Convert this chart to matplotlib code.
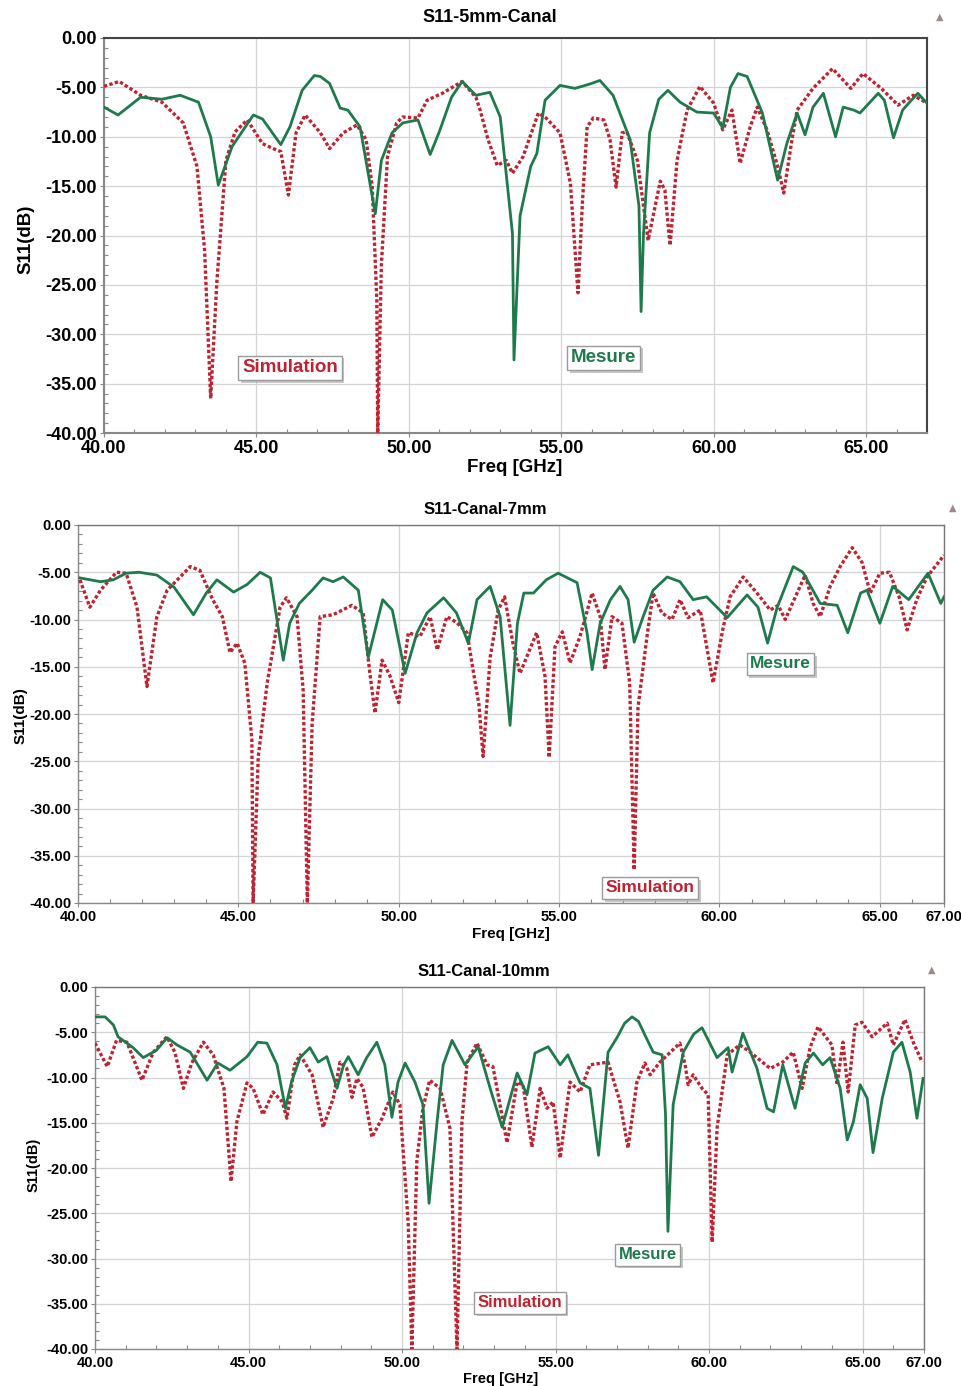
import matplotlib
matplotlib.use("Agg")
import matplotlib.pyplot as plt
from matplotlib import patheffects
from matplotlib.ticker import MultipleLocator

plt.rcParams["font.family"] = ["Liberation Sans", "DejaVu Sans"]
plt.rcParams["font.weight"] = "bold"
plt.rcParams["axes.unicode_minus"] = False

GREEN = "#1e7a4c"
RED = "#bf2230"

# ---- S11-5mm-Canal ----
F5_MES = [40.0, 40.46, 41.2, 41.9, 42.5, 43.1, 43.5, 43.75, 44.2, 44.9, 45.2, 45.8, 46.1, 46.5, 46.9,
          47.1, 47.4, 47.75, 48.0, 48.4, 48.9, 49.1, 49.45, 49.8, 50.3, 50.7, 51.0, 51.4, 51.75, 52.2,
          52.66, 53.0, 53.4, 53.45, 53.65, 54.0, 54.2, 54.47, 54.96, 55.45, 55.9, 56.27, 56.7, 57.26,
          57.55, 57.62, 57.7, 57.9, 58.2, 58.5, 58.9, 59.45, 60.0, 60.3, 60.55, 60.8, 61.1, 61.6,
          62.1, 62.4, 62.74, 63.0, 63.26, 63.6, 64.0, 64.25, 64.6, 64.8, 65.4, 65.6, 65.9, 66.2,
          66.4, 66.7, 67.0]
S5_MES = [-7.0, -7.8, -6.0, -6.2, -5.8, -6.5, -10.0, -14.9, -11.0, -7.8, -8.2, -10.8, -9.0, -5.3, -3.8,
          -3.9, -4.6, -7.1, -7.3, -9.0, -17.8, -12.4, -9.6, -8.6, -8.3, -11.8, -9.5, -6.0, -4.4, -5.8,
          -5.5, -8.0, -19.8, -32.6, -18.0, -13.0, -11.7, -6.3, -4.8, -5.1, -4.7, -4.3, -5.8, -10.3,
          -17.0, -27.7, -19.8, -9.6, -6.2, -5.3, -6.5, -7.5, -7.6, -9.1, -5.0, -3.6, -3.9, -7.6,
          -14.4, -10.7, -7.6, -9.8, -7.0, -5.6, -10.0, -7.0, -7.3, -7.6, -5.6, -6.3, -10.1, -7.3,
          -6.6, -5.6, -6.6]
F5_SIM = [40.0, 40.5, 41.2, 41.9, 42.6, 43.05, 43.3, 43.5, 43.7, 44.0, 44.3, 44.7, 45.2, 45.55, 45.8,
          46.05, 46.3, 46.6, 47.1, 47.4, 47.85, 48.3, 48.6, 48.8, 48.95, 48.98, 49.1, 49.3, 49.6,
          49.8, 50.3, 50.6, 51.1, 51.75, 52.2, 52.34, 52.6, 52.9, 53.2, 53.4, 53.75, 54.25, 54.5,
          54.96, 55.3, 55.55, 55.7, 55.85, 56.05, 56.4, 56.6, 56.8, 57.0, 57.15, 57.5, 57.85,
          58.25, 58.4, 58.57, 58.8, 59.13, 59.55, 60.0, 60.3, 60.6, 60.87, 61.2, 61.43, 61.75,
          62.1, 62.3, 62.57, 62.74, 63.26, 63.9, 64.5, 64.9, 65.5, 66.05, 66.55, 67.0]
S5_SIM = [-4.9, -4.4, -5.8, -6.5, -8.6, -13.0, -21.5, -36.5, -24.8, -12.4, -9.5, -8.3, -10.7, -11.2, -11.5,
          -15.9, -9.6, -7.8, -9.6, -11.2, -9.6, -8.8, -10.3, -15.1, -26.5, -40.0, -23.0, -12.0, -8.6,
          -8.0, -8.1, -6.3, -5.6, -4.4, -6.0, -7.3, -10.3, -12.9, -12.4, -13.7, -12.0, -7.6, -8.1,
          -9.6, -14.7, -25.8, -16.4, -9.0, -8.1, -8.3, -10.3, -15.1, -9.6, -9.5, -12.4, -20.5,
          -14.5, -15.4, -21.0, -12.4, -7.3, -4.9, -6.6, -9.3, -7.3, -12.7, -9.0, -7.0, -9.3,
          -13.0, -15.7, -10.3, -7.3, -5.1, -3.1, -5.1, -3.6, -5.1, -6.8, -5.8, -6.6]

# ---- S11-Canal-7mm ----
F7_MES = [40.06, 40.7, 41.1, 41.5, 41.9, 42.46, 43.0, 43.6, 44.0, 44.33, 44.85, 45.27, 45.68, 46.0,
          46.4, 46.6, 46.9, 47.3, 47.64, 47.95, 48.27, 48.74, 49.05, 49.5, 49.8, 50.2, 50.57, 50.88,
          51.4, 51.8, 52.17, 52.44, 52.85, 53.16, 53.47, 53.7, 53.9, 54.2, 54.6, 54.97, 55.56,
          55.87, 56.03, 56.28, 56.6, 56.9, 57.15, 57.34, 57.62, 57.93, 58.37, 58.77, 59.18, 59.6,
          60.24, 60.86, 61.2, 61.5, 61.8, 62.3, 62.6, 63.14, 63.67, 64.0, 64.4, 64.6, 65.0, 65.4,
          65.9, 66.5, 66.9, 67.0]
S7_MES = [-5.6, -6.0, -5.8, -5.1, -5.0, -5.3, -6.6, -9.5, -7.2, -5.8, -7.1, -6.3, -5.0, -5.6,
          -14.3, -10.4, -8.3, -6.9, -5.6, -6.0, -5.5, -6.9, -14.0, -7.9, -9.0, -15.7, -11.4, -9.3,
          -7.7, -9.3, -12.5, -7.9, -6.5, -9.7, -21.2, -10.4, -7.2, -7.2, -5.8, -5.1, -6.1,
          -11.4, -15.3, -10.4, -7.9, -6.5, -7.9, -12.4, -9.7, -6.9, -5.5, -6.0, -7.9, -7.6,
          -9.8, -7.4, -8.7, -12.5, -8.7, -4.4, -5.0, -8.3, -8.5, -11.4, -7.2, -6.9, -10.4, -6.5,
          -7.9, -5.1, -8.3, -7.6]
F7_SIM = [40.06, 40.37, 40.7, 41.2, 41.5, 41.84, 42.15, 42.46, 42.78, 43.5, 43.8, 44.2, 44.5, 44.74,
          44.96, 45.2, 45.42, 45.46, 45.62, 45.9, 46.3, 46.5, 46.83, 47.02, 47.15, 47.3, 47.55,
          47.95, 48.54, 48.89, 49.1, 49.26, 49.48, 49.73, 50.0, 50.3, 50.66, 50.98, 51.2, 51.5,
          51.8, 52.13, 52.3, 52.5, 52.63, 52.85, 53.1, 53.3, 53.56, 53.78, 54.3, 54.56, 54.69,
          54.87, 55.1, 55.34, 55.65, 56.03, 56.28, 56.43, 56.65, 56.96, 57.2, 57.34, 57.46, 57.74,
          57.93, 58.2, 58.52, 58.77, 59.02, 59.4, 59.8, 60.1, 60.33, 60.74, 61.17, 61.58, 61.83,
          62.05, 62.42, 62.67, 62.92, 63.14, 63.45, 63.76, 64.14, 64.45, 64.7, 65.0, 65.3, 65.6,
          65.85, 66.15, 66.47, 67.0]
S7_SIM = [-5.8, -8.7, -6.9, -5.0, -5.1, -8.7, -17.1, -9.7, -6.9, -4.4, -4.8, -7.9, -9.7, -13.5,
          -12.5, -14.6, -22.7, -40.0, -24.5, -16.7, -8.7, -7.7, -9.7, -17.5, -40.0, -21.0, -9.7,
          -9.5, -8.5, -9.3, -15.7, -19.9, -14.3, -16.0, -18.8, -11.4, -11.8, -9.7, -13.2, -9.7,
          -10.3, -11.4, -15.0, -19.0, -24.5, -14.0, -9.0, -7.6, -12.5, -15.7, -11.4, -16.0, -24.6,
          -12.9, -11.3, -14.6, -11.8, -7.2, -9.7, -15.3, -9.7, -10.4, -16.7, -36.5, -19.3, -11.8,
          -7.2, -9.3, -10.0, -7.9, -9.8, -9.0, -16.7, -11.1, -7.6, -5.5, -7.2, -9.0, -8.5,
          -10.0, -7.2, -5.3, -8.3, -9.7, -6.5, -4.4, -2.4, -4.0, -7.2, -5.1, -5.0, -7.6,
          -11.1, -7.9, -5.5, -3.2]

# ---- S11-Canal-10mm ----
F10_MES = [40.0, 40.33, 40.6, 40.75, 41.24, 41.57, 42.0, 42.35, 42.67, 43.1, 43.65, 44.0, 44.4, 44.95,
           45.3, 45.6, 45.93, 46.2, 46.4, 46.68, 47.0, 47.27, 47.55, 47.88, 48.1, 48.25, 48.57,
           48.85, 49.18, 49.44, 49.67, 49.87, 50.1, 50.42, 50.68, 50.88, 51.14, 51.34, 51.63, 52.05,
           52.48, 52.87, 53.26, 53.75, 54.07, 54.33, 54.76, 55.15, 55.4, 55.8, 56.12, 56.4, 56.71,
           57.0, 57.25, 57.49, 57.7, 57.91, 58.18, 58.47, 58.58, 58.66, 58.83, 59.16, 59.5, 59.77,
           60.26, 60.62, 60.75, 61.1, 61.56, 61.89, 62.1, 62.4, 62.8, 63.13, 63.4, 63.7, 63.94,
           64.27, 64.5, 64.7, 64.92, 65.15, 65.34, 65.64, 66.0, 66.28, 66.55, 66.77, 66.97]
S10_MES = [-3.3, -3.3, -4.2, -5.5, -6.7, -7.8, -7.0, -5.6, -6.4, -7.2, -10.3, -8.4, -9.2, -7.7,
           -6.1, -6.2, -8.6, -13.4, -10.5, -7.8, -6.7, -8.3, -7.7, -11.2, -8.6, -7.7, -9.7,
           -7.8, -6.1, -8.6, -14.4, -10.5, -8.4, -10.5, -13.0, -23.9, -14.9, -8.6, -5.9, -8.6,
           -6.6, -11.2, -15.5, -9.5, -11.9, -7.3, -6.6, -8.6, -7.5, -10.6, -11.2, -18.6, -7.2,
           -5.6, -4.0, -3.3, -3.8, -5.3, -7.2, -7.5, -14.0, -27.0, -13.0, -7.2, -5.2, -4.5,
           -7.8, -6.7, -9.4, -5.1, -9.0, -13.4, -13.8, -8.6, -13.4, -8.4, -7.3, -8.6, -7.8,
           -11.2, -16.9, -14.9, -10.8, -12.3, -18.3, -12.3, -7.2, -6.1, -9.4, -14.5, -10.1]
F10_SIM = [40.0, 40.4, 40.7, 41.04, 41.53, 41.9, 42.34, 42.6, 42.88, 43.15, 43.53, 43.85, 44.2, 44.43,
           44.62, 44.95, 45.15, 45.47, 45.8, 46.1, 46.25, 46.5, 46.68, 47.07, 47.43, 47.76, 47.98,
           48.2, 48.37, 48.53, 48.73, 49.02, 49.35, 49.7, 49.93, 50.2, 50.32, 50.48, 50.68, 50.9,
           51.24, 51.56, 51.79, 51.95, 52.12, 52.44, 52.77, 52.96, 53.42, 53.75, 53.94, 54.23,
           54.5, 54.72, 54.92, 55.15, 55.47, 55.8, 56.12, 56.71, 57.1, 57.36, 57.65, 57.91, 58.08,
           58.4, 59.05, 59.22, 59.32, 59.48, 59.77, 59.97, 60.1, 60.26, 60.59, 61.0, 61.34, 61.99,
           62.4, 62.74, 63.03, 63.29, 63.55, 64.0, 64.17, 64.36, 64.53, 64.76, 64.98, 65.31, 65.8,
           66.0, 66.38, 66.65, 66.94]
S10_SIM = [-6.2, -8.8, -5.9, -6.1, -10.3, -7.2, -5.5, -7.2, -11.2, -8.4, -6.1, -7.5, -11.2, -21.5,
           -14.9, -10.6, -11.2, -14.1, -11.6, -12.7, -14.5, -8.6, -7.5, -9.7, -15.5, -12.3, -8.3,
           -9.0, -12.2, -10.1, -11.1, -16.6, -14.5, -11.6, -13.0, -26.0, -40.0, -19.3, -13.4, -10.3,
           -11.2, -15.6, -40.0, -14.9, -8.3, -6.2, -8.6, -8.8, -17.2, -10.5, -10.8, -17.7,
           -11.2, -13.4, -12.7, -18.9, -10.5, -11.6, -8.6, -8.3, -12.7, -17.8, -10.5, -8.4, -9.7,
           -8.3, -6.2, -8.6, -10.8, -9.7, -11.2, -11.9, -28.2, -15.6, -7.5, -6.4, -7.2, -9.0,
           -8.3, -7.2, -11.2, -6.7, -4.4, -6.4, -10.8, -6.1, -11.6, -4.2, -3.9, -5.5, -4.0,
           -6.4, -3.6, -6.1, -8.3]

TITLES = ["S11-5mm-Canal", "S11-Canal-7mm", "S11-Canal-10mm"]
Y_TICKS = [0, -5, -10, -15, -20, -25, -30, -35, -40]
X_TICKS_5 = [40, 45, 50, 55, 60, 65]
X_TICKS_7 = [40, 45, 50, 55, 60, 65, 67]
X_TICKS_10 = [40, 45, 50, 55, 60, 65, 67]

# layout per panel (pixel positions on a 962x1386 canvas)
W, H = 962, 1386
PANELS = [
    dict(f_mes=F5_MES, s_mes=S5_MES, f_sim=F5_SIM, s_sim=S5_SIM, xt=X_TICKS_5, title=TITLES[0],
         box=(104, 38, 927, 433), tick_fs=13, lab_fs=13.5, title_fs=13, note_fs=13.5,
         title_xy=(490, 18), xlab=(0.499, -0.066), ylab=(-0.084, 0.49),
         sim_xy=(46.1, -33.4), mes_xy=(56.4, -32.4), tri=(940, 17), spine=("#444444", 1.5)),
    dict(f_mes=F7_MES, s_mes=S7_MES, f_sim=F7_SIM, s_sim=S7_SIM, xt=X_TICKS_7, title=TITLES[1],
         box=(78, 525, 944, 903), tick_fs=10.5, lab_fs=11, title_fs=12, note_fs=12.5,
         title_xy=(485, 510), xlab=(0.5, -0.063), ylab=(-0.058, 0.497),
         sim_xy=(57.84, -38.4), mes_xy=(61.9, -14.7), tri=(953, 508), spine=("#777777", 1.0)),
    dict(f_mes=F10_MES, s_mes=S10_MES, f_sim=F10_SIM, s_sim=S10_SIM, xt=X_TICKS_10, title=TITLES[2],
         box=(95, 987, 924, 1349), tick_fs=10.5, lab_fs=10.5, title_fs=12, note_fs=12,
         title_xy=(484, 971), xlab=(0.489, -0.064), ylab=(-0.066, 0.508),
         sim_xy=(53.84, -34.9), mes_xy=(58.0, -29.6), tri=(932, 970), spine=("#777777", 1.0)),
]


def note(ax, xy, text, color, fs):
    t = ax.text(xy[0], xy[1], text, color=color, fontsize=fs, fontweight="bold",
                ha="center", va="center", zorder=6,
                bbox=dict(boxstyle="square,pad=0.2", fc="white", ec="#9a9a9a", lw=1.0))
    t.get_bbox_patch().set_path_effects(
        [patheffects.withSimplePatchShadow(offset=(2, -2), shadow_rgbFace="#b0b0b0", alpha=0.7)])


fig = plt.figure(figsize=(W / 100, H / 100), dpi=100)

for p in PANELS:
    x0, y0, x1, y1 = p["box"]
    ax = fig.add_axes([x0 / W, 1 - y1 / H, (x1 - x0) / W, (y1 - y0) / H])
    ax.plot(p["f_sim"], p["s_sim"], color=RED, lw=2.4, linestyle=(0, (1, 0.7)), zorder=3)
    ax.plot(p["f_mes"], p["s_mes"], color=GREEN, lw=2.0, zorder=4)
    ax.set_xlim(40, 67)
    ax.set_ylim(-40, 0)
    ax.set_xticks(p["xt"], labels=[f"{v:.2f}" for v in p["xt"]])
    ax.set_yticks(Y_TICKS, labels=[f"{v:.2f}" for v in Y_TICKS])
    ax.xaxis.set_minor_locator(MultipleLocator(1))
    ax.yaxis.set_minor_locator(MultipleLocator(1))
    ax.tick_params(which="major", direction="out", length=3, width=0.8, color="#888888",
                   labelsize=p["tick_fs"], pad=2)
    ax.tick_params(which="minor", direction="in", length=3, width=0.8, color="#888888")
    for lbl in ax.get_xticklabels() + ax.get_yticklabels():
        lbl.set_fontweight("bold")
    ax.grid(True, which="major", color="#d4d4d4", lw=0.9)
    ax.set_axisbelow(True)
    for s in ax.spines.values():
        s.set_color(p["spine"][0])
        s.set_linewidth(p["spine"][1])
    ax.spines["left"].set_color("#888888")
    ax.spines["bottom"].set_color("#888888")

    ax.set_xlabel("Freq [GHz]", fontsize=p["lab_fs"], fontweight="bold")
    ax.xaxis.set_label_coords(*p["xlab"])
    ax.set_ylabel("S11(dB)", fontsize=p["lab_fs"], fontweight="bold")
    ax.yaxis.set_label_coords(*p["ylab"])

    note(ax, p["sim_xy"], "Simulation", RED, p["note_fs"])
    note(ax, p["mes_xy"], "Mesure", GREEN, p["note_fs"])

    fig.text(p["title_xy"][0] / W, 1 - p["title_xy"][1] / H, p["title"], ha="center", va="center",
             fontsize=p["title_fs"], fontweight="bold")
    fig.text(p["tri"][0] / W, 1 - p["tri"][1] / H, "\u25B2", ha="center", va="center",
             fontsize=7, color="#a08888", family="DejaVu Sans")

fig.savefig("out.png", dpi=100)
